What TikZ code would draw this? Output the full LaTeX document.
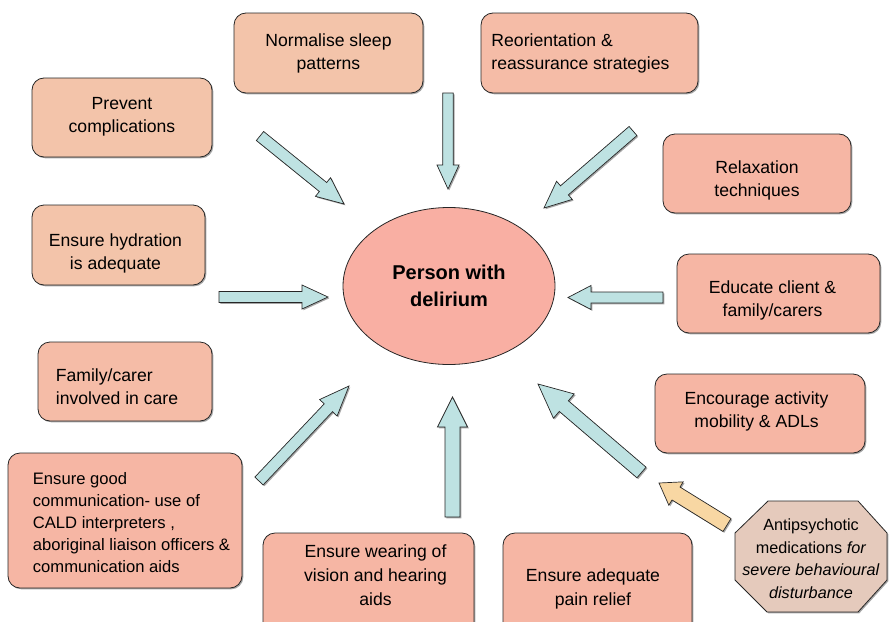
\documentclass[tikz,border=0pt]{standalone}
\usepackage{fontspec}
\setmainfont{Liberation Sans}
\usetikzlibrary{calc,shapes.geometric,shadows}
\definecolor{peach}{HTML}{F3C4AA}
\definecolor{salmonA}{HTML}{F5BCA7}
\definecolor{salmonB}{HTML}{F6B6A4}
\definecolor{ellfill}{HTML}{F9AFA3}
\definecolor{arrfill}{HTML}{BEE2E2}
\definecolor{orangefill}{HTML}{F8D7A3}
\definecolor{octfill}{HTML}{E5CABC}
% #1 id, #2 tail, #3 tip, #4 half shaft, #5 half head, #6 head length, #7 style
\newcommand{\blockarr}[7]{%
  \coordinate (#1b) at ($(#3)!#6!(#2)$);
  \draw[#7] ($(#2)!#4!90:(#3)$) -- ($(#1b)!#4!-90:(#2)$) -- ($(#1b)!#5!-90:(#2)$)
    -- (#3) -- ($(#1b)!#5!90:(#2)$) -- ($(#1b)!#4!90:(#2)$) -- ($(#2)!#4!-90:(#3)$) -- cycle;
}
\begin{document}
\begin{tikzpicture}[x=1pt,y=-1pt,
  shadowed/.style={drop shadow={shadow xshift=1.3pt, shadow yshift=-1.3pt, fill=black, opacity=0.35}},
  box/.style={draw=black!85, line width=0.8pt, rounded corners=12pt, inner sep=0pt, shadowed},
  txt/.style={align=center, inner sep=0pt, font=\fontsize{17.6}{23}\selectfont},
  blk/.style={draw=black!85, fill=arrfill, line width=0.7pt, line join=miter, shadowed},
  oblk/.style={draw=black!85, fill=orangefill, line width=0.7pt, line join=miter, shadowed}]
\useasboundingbox (0,0) rectangle (893,621);
\clip (0,0) rectangle (893,621);

% centre
\node[ellipse, draw=black!85, line width=0.8pt, fill=ellfill, minimum width=212pt, minimum height=157pt,
  inner sep=0pt, align=center, font=\fontsize{20}{26.5}\bfseries\selectfont] (c) at (449,286) {Person with\\delirium};

% boxes
\node[box, fill=peach, minimum width=189pt, minimum height=80pt] (b1) at (328.5,53) {};
\node[txt] (t1) at ($(b1)+(0,0)$) {Normalise sleep\\patterns};
\node[box, fill=salmonA, minimum width=217pt, minimum height=80pt] (b2) at (589.5,53) {};
\node[txt, align=left] (t2) at ($(b2)+(-9,0)$) {Reorientation \&\\reassurance strategies};
\node[box, fill=peach, minimum width=180pt, minimum height=79pt] (b3) at (122,117.5) {};
\node[txt] (t3) at ($(b3)+(0,-1)$) {Prevent\\complications};
\node[box, fill=salmonB, minimum width=188pt, minimum height=79pt] (b4) at (757,173.5) {};
\node[txt] (t4) at ($(b4)+(0,7)$) {Relaxation\\techniques};
\node[box, fill=peach, minimum width=173pt, minimum height=80pt] (b5) at (118.5,245) {};
\node[txt] (t5) at ($(b5)+(-3,8)$) {Ensure hydration\\is adequate};
\node[box, fill=salmonB, minimum width=203pt, minimum height=79pt] (b6) at (778.5,293.5) {};
\node[txt] (t6) at ($(b6)+(-6,6.5)$) {Educate client \&\\family/carers};
\node[box, fill=salmonA, minimum width=174pt, minimum height=79pt] (b7) at (125,381.5) {};
\node[txt, align=left] (t7) at ($(b7)+(-8,5)$) {Family/carer\\involved in care};
\node[box, fill=salmonB, minimum width=210pt, minimum height=79pt] (b8) at (760,413.5) {};
\node[txt] (t8) at ($(b8)+(-3.5,-2)$) {Encourage activity\\mobility \& ADLs};
\node[box, fill=salmonB, minimum width=234pt, minimum height=135pt] (b9) at (125,520.5) {};
\node[txt, align=left, font=\fontsize{16.6}{22}\selectfont] (t9) at ($(b9)+(6.5,2)$)
  {Ensure good\\communication- use of\\CALD interpreters ,\\aboriginal liaison officers \&\\communication aids};
\node[box, fill=salmonB, minimum width=211pt, minimum height=110pt] (b10) at (368.5,588) {};
\node[txt, font=\fontsize{17.6}{24}\selectfont] (t10) at (375.5,575) {Ensure wearing of\\vision and hearing\\aids};
\node[box, fill=salmonB, minimum width=189pt, minimum height=110pt] (b11) at (597.5,588) {};
\node[txt, font=\fontsize{17.6}{24}\selectfont] (t11) at (593,588.5) {Ensure adequate\\pain relief};

% octagon
\draw[draw=black!85, fill=octfill, line width=0.8pt, shadowed]
  (768,501) -- (858,501) -- (887,533) -- (887,580) -- (858,612) -- (767,612) -- (735,580) -- (735,533) -- cycle;
\node[align=center, inner sep=0pt, font=\fontsize{16.2}{22.5}\selectfont] (oct) at (811,558.5)
  {Antipsychotic\\medications \textit{for}\\\textit{severe behavioural}\\\textit{disturbance}};

% arrow end points
\coordinate (a1t) at (260,136);   \coordinate (a1h) at (344,204);
\coordinate (a2t) at (448,93);    \coordinate (a2h) at (448,189);
\coordinate (a3t) at (633,131);   \coordinate (a3h) at (544,208);
\coordinate (a4t) at (219,297);   \coordinate (a4h) at (328,297);
\coordinate (a5t) at (663,297.5); \coordinate (a5h) at (568,297.5);
\coordinate (a6t) at (259,481);   \coordinate (a6h) at (349,386);
\coordinate (a7t) at (452.5,517); \coordinate (a7h) at (452.5,397);
\coordinate (a8t) at (641.5,472.5); \coordinate (a8h) at (538,384);
\coordinate (a9t) at (727,525);   \coordinate (a9h) at (659,483);

\blockarr{a1}{a1t}{a1h}{5.8pt}{12pt}{27pt}{blk}
\blockarr{a2}{a2t}{a2h}{5.3pt}{11pt}{24pt}{blk}
\blockarr{a3}{a3t}{a3h}{6pt}{12pt}{27pt}{blk}
\blockarr{a4}{a4t}{a4h}{5.5pt}{12pt}{26pt}{blk}
\blockarr{a5}{a5t}{a5h}{5.5pt}{12pt}{23pt}{blk}
\blockarr{a6}{a6t}{a6h}{5.7pt}{12pt}{30pt}{blk}
\blockarr{a7}{a7t}{a7h}{7.5pt}{15pt}{30pt}{blk}
\blockarr{a8}{a8t}{a8h}{7pt}{16pt}{34pt}{blk}
\blockarr{a9}{a9t}{a9h}{7.6pt}{13.7pt}{20pt}{oblk}
\end{tikzpicture}
\end{document}
